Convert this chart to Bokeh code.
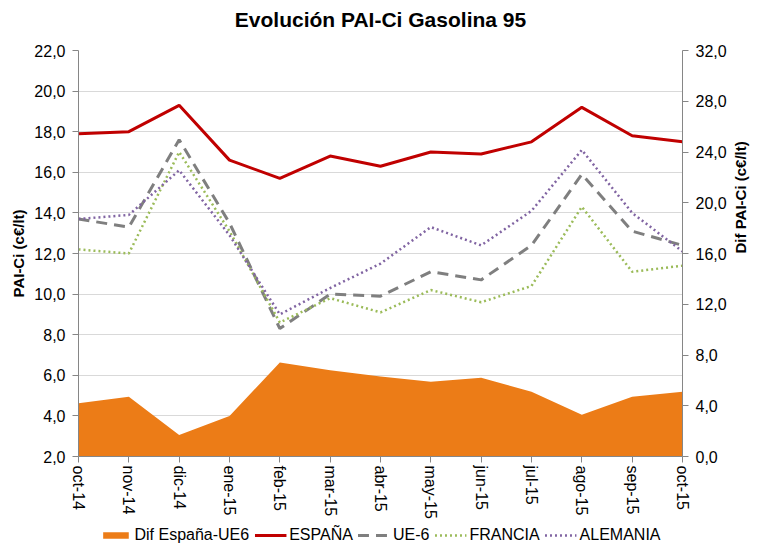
import math
from bokeh.plotting import figure
from bokeh.layouts import column
from bokeh.models import (Range1d, LinearAxis, FixedTicker, Legend, LegendItem,
                          ColumnDataSource, CustomJSTickFormatter)
from bokeh.embed import file_html
from bokeh.resources import INLINE

# ---------------- data ----------------
months = ["oct-14", "nov-14", "dic-14", "ene-15", "feb-15", "mar-15", "abr-15",
          "may-15", "jun-15", "jul-15", "ago-15", "sep-15", "oct-15"]
espana = [17.9, 18.0, 19.3, 16.6, 15.7, 16.8, 16.3, 17.0, 16.9, 17.5, 19.2, 17.8, 17.5]
ue6 = [13.7, 13.3, 17.6, 13.5, 8.3, 10.0, 9.9, 11.1, 10.7, 12.4, 15.9, 13.1, 12.4]
francia = [12.2, 12.0, 17.0, 13.1, 8.6, 9.8, 9.1, 10.2, 9.6, 10.4, 14.3, 11.1, 11.4]
alemania = [13.7, 13.9, 16.1, 12.9, 9.0, 10.3, 11.5, 13.3, 12.4, 14.1, 17.1, 14.0, 12.1]
dif = [4.2, 4.7, 1.7, 3.2, 7.4, 6.8, 6.3, 5.9, 6.2, 5.1, 3.3, 4.7, 5.1]
left_ticks = [2, 4, 6, 8, 10, 12, 14, 16, 18, 20, 22]
right_ticks = [0, 4, 8, 12, 16, 20, 24, 28, 32]

TITLE = "Evolución PAI-Ci Gasolina 95"
FONT = "Liberation Sans"
AXIS_COL = "#868686"
W = 760

C_DIF, C_ES, C_UE, C_FR, C_DE = "#EC7C17", "#C00000", "#7F7F7F", "#9BBB59", "#8064A2"

x = list(range(len(months)))
src = ColumnDataSource(dict(x=x, espana=espana, ue6=ue6, francia=francia,
                            alemania=alemania, dif=dif))

# ---------------- title strip (frame aligned with main chart) ----------------
tf = figure(width=W, height=36, output_backend="svg", toolbar_location=None,
            title=TITLE,
            x_axis_type=None, y_axis_type=None, x_range=Range1d(0, 1), y_range=Range1d(0, 1),
            min_border_left=78, min_border_right=68, min_border_top=0, min_border_bottom=0,
            outline_line_color=None, border_fill_color="white")
tf.title.align = "center"
tf.title.vertical_align = "bottom"
tf.title.standoff = 10
tf.title.text_font = FONT
tf.title.text_font_style = "bold"
tf.title.text_font_size = "21px"
tf.title.text_color = "#000000"

# ---------------- main chart ----------------
p = figure(width=W, height=485, output_backend="svg", toolbar_location=None,
           x_range=Range1d(x[0], x[-1]), y_range=Range1d(left_ticks[0], left_ticks[-1]),
           min_border_left=78, min_border_right=68, min_border_top=14, min_border_bottom=64,
           outline_line_color=None, background_fill_color="white", border_fill_color="white")
p.extra_y_ranges = {"dif": Range1d(right_ticks[0], right_ticks[-1])}

comma_code = "return tick.toFixed(1).replace('.', ',');"

lt = FixedTicker(ticks=left_ticks)
yax = p.yaxis[0]
yax.ticker = lt
yax.formatter = CustomJSTickFormatter(code=comma_code)
yax.axis_label = "PAI-Ci (c€/lt)"
yax.axis_label_standoff = 4
p.ygrid.ticker = lt
p.ygrid.grid_line_color = "#D9D9D9"
p.ygrid.grid_line_width = 1
p.xgrid.visible = False

rax = LinearAxis(y_range_name="dif", ticker=FixedTicker(ticks=right_ticks),
                 formatter=CustomJSTickFormatter(code=comma_code))
rax.axis_label = "Dif PAI-Ci (c€/lt)"
rax.axis_label_standoff = 11
if "axis_label_orientation" in rax.properties():
    rax.axis_label_orientation = math.pi / 2
p.add_layout(rax, "right")

xax = p.xaxis[0]
xax.ticker = FixedTicker(ticks=x)
xax.major_label_overrides = {i: m for i, m in zip(x, months)}
xax.major_label_orientation = -math.pi / 2

for ax in (xax, yax, rax):
    ax.axis_line_color = AXIS_COL
    ax.axis_line_width = 1
    ax.major_tick_line_color = AXIS_COL
    ax.major_tick_out = 6
    ax.major_tick_in = 0
    ax.minor_tick_out = 0
    ax.minor_tick_in = 0
    ax.major_label_text_font = FONT
    ax.major_label_text_font_size = "16px"
    ax.major_label_text_color = "#000000"
    ax.major_label_standoff = 7
    ax.axis_label_text_font = FONT
    ax.axis_label_text_font_style = "bold"
    ax.axis_label_text_font_size = "15px"
    ax.axis_label_text_color = "#000000"
xax.major_label_standoff = 3

p.varea(x="x", y1=0, y2="dif", source=src, y_range_name="dif", fill_color=C_DIF, fill_alpha=1.0)
p.line("x", "espana", source=src, line_color=C_ES, line_width=3)
p.line("x", "ue6", source=src, line_color=C_UE, line_width=3, line_dash="11 7")
p.line("x", "francia", source=src, line_color=C_FR, line_width=2.5, line_dash="2 3")
p.line("x", "alemania", source=src, line_color=C_DE, line_width=2.5, line_dash="2 3")

# ---------------- legend strip (frame aligned with main chart) ----------------
lf = figure(width=W, height=28, output_backend="svg", toolbar_location=None,
            x_axis_type=None, y_axis_type=None, x_range=Range1d(0, 1), y_range=Range1d(0, 1),
            min_border_left=78, min_border_right=68, min_border_top=0, min_border_bottom=0,
            outline_line_color=None, border_fill_color="white")
nan = float("nan")
dummy = ColumnDataSource(dict(x=[nan], y=[nan]))
g_dif = lf.varea(x="x", y1="y", y2="y", source=dummy, fill_color=C_DIF, fill_alpha=1.0)
g_es = lf.line("x", "y", source=dummy, line_color=C_ES, line_width=3)
g_ue = lf.line("x", "y", source=dummy, line_color=C_UE, line_width=3, line_dash="11 7")
g_fr = lf.line("x", "y", source=dummy, line_color=C_FR, line_width=2.5, line_dash="2 3")
g_de = lf.line("x", "y", source=dummy, line_color=C_DE, line_width=2.5, line_dash="2 3")

legend = Legend(items=[LegendItem(label="Dif España-UE6", renderers=[g_dif]),
                       LegendItem(label="ESPAÑA", renderers=[g_es]),
                       LegendItem(label="UE-6", renderers=[g_ue]),
                       LegendItem(label="FRANCIA", renderers=[g_fr]),
                       LegendItem(label="ALEMANIA", renderers=[g_de])],
                location="center", orientation="horizontal",
                glyph_width=32, glyph_height=8, label_standoff=3, spacing=5,
                padding=0, margin=0, border_line_color=None, background_fill_alpha=0,
                label_text_font=FONT, label_text_font_size="16px",
                label_text_color="#000000")
lf.add_layout(legend)

layout = column(tf, p, lf, spacing=0)
open("out.html", "w").write(file_html(layout, INLINE))
